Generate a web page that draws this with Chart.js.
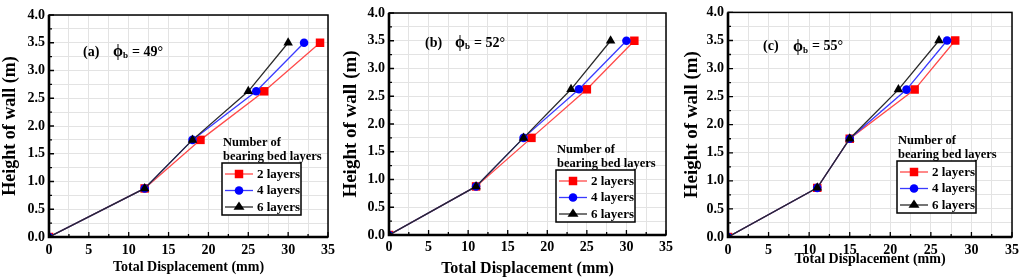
<!DOCTYPE html>
<html>
<head>
<meta charset="utf-8">
<script src="https://cdn.jsdelivr.net/npm/chart.js@4.4.1/dist/chart.umd.min.js"></script>
<style>
  html, body { margin: 0; padding: 0; background: #fff; width: 1024px; height: 280px; overflow: hidden; }
  canvas { position: absolute; top: 0; }
</style>
</head>
<body>
<canvas id="panelA" width="340" height="280" style="left:0"></canvas>
<canvas id="panelB" width="340" height="280" style="left:340px"></canvas>
<canvas id="panelC" width="344" height="280" style="left:680px"></canvas>
<script>
// wall heights (m) where displacement was recorded
const HEIGHTS = [0, 0.875, 1.75, 2.625, 3.5];
const SERIES_LABELS = ['2 layers', '4 layers', '6 layers'];

// total displacement (mm) — (a) phi_b = 49°
const A_2 = [0, 12, 19, 27, 34];
const A_4 = [0, 12, 18, 26, 32];
const A_6 = [0, 12, 18, 25, 30];
// (b) phi_b = 52°
const B_2 = [0, 11, 18, 25, 31];
const B_4 = [0, 11, 17, 24, 30];
const B_6 = [0, 11, 17, 23, 28];
// (c) phi_b = 55°
const C_2 = [0, 11, 15, 23, 28];
const C_4 = [0, 11, 15, 22, 27];
const C_6 = [0, 11, 15, 21, 26];

const X_MAX = 35;
const Y_MAX = 4;

const FONT = 'Liberation Serif, Times New Roman, serif';
const STYLES = [
  { line: '#ff4a4a', fill: '#ff0000', point: 'rect', r: 6 },
  { line: '#3a3aff', fill: '#0000ff', point: 'circle', r: 4.3 },
  { line: '#2a2a2a', fill: '#000000', point: 'triangle', r: 5.5 },
];

function marker(ctx, style, x, y, r) {
  ctx.beginPath();
  if (style === 'rect') {
    const s = r * Math.SQRT1_2;
    ctx.rect(x - s, y - s, 2 * s, 2 * s);
  } else if (style === 'circle') {
    ctx.arc(x, y, r, 0, Math.PI * 2);
  } else {
    const h = r * 1.5, w = r * 1.0;
    ctx.moveTo(x, y - h * 2 / 3);
    ctx.lineTo(x + w, y + h / 3);
    ctx.lineTo(x - w, y + h / 3);
    ctx.closePath();
  }
  ctx.fill();
}

const decoPlugin = {
  id: 'deco',
  afterDraw(chart, args, o) {
    const { ctx, chartArea: ca, scales: { x, y } } = chart;
    ctx.save();
    // inward tick marks
    ctx.strokeStyle = '#000';
    ctx.lineWidth = 1.3;
    ctx.beginPath();
    x.ticks.forEach(t => {
      const px = x.getPixelForValue(t.value);
      const len = t.value % 5 === 0 ? 5 : 3;
      ctx.moveTo(px, ca.bottom); ctx.lineTo(px, ca.bottom - len);
    });
    y.ticks.forEach(t => {
      const py = y.getPixelForValue(t.value);
      const major = Math.abs(t.value * 2 - Math.round(t.value * 2)) < 1e-6;
      const len = major ? 5 : 3;
      ctx.moveTo(ca.left, py); ctx.lineTo(ca.left + len, py);
    });
    ctx.stroke();
    // frame
    ctx.lineWidth = 1.5;
    ctx.strokeRect(ca.left, ca.top, ca.right - ca.left, ca.bottom - ca.top);
    ctx.lineWidth = 2.6;
    ctx.beginPath();
    ctx.moveTo(ca.left, ca.top); ctx.lineTo(ca.left, ca.bottom); ctx.lineTo(ca.right, ca.bottom);
    ctx.stroke();

    // panel tag and friction angle
    ctx.fillStyle = '#000';
    ctx.textBaseline = 'middle';
    ctx.textAlign = 'left';
    const tx = ca.left + o.tagDx, ty = ca.top + o.tagDy;
    ctx.font = 'bold 14px ' + FONT;
    ctx.fillText(o.tag, tx, ty);
    ctx.font = 'bold 16px ' + FONT;
    ctx.fillText('ϕ', tx + 30, ty);
    ctx.font = 'bold 9px ' + FONT;
    ctx.fillText('b', tx + 40, ty + 4);
    ctx.font = 'bold 14px ' + FONT;
    ctx.fillText('= ' + o.phi + '°', tx + 49, ty);

    // legend
    const bw = 79, bh = 52;
    const bx = ca.right - o.legRight - bw, by = ca.bottom - o.legBottom - bh;
    ctx.font = 'bold 12.5px ' + FONT;
    ctx.fillText('Number of', bx + 1, by - 20);
    ctx.fillText('bearing bed layers', bx + 1, by - 6);
    ctx.fillStyle = '#fff';
    ctx.fillRect(bx, by, bw, bh);
    ctx.strokeStyle = '#000';
    ctx.lineWidth = 1.5;
    ctx.strokeRect(bx, by, bw, bh);
    ctx.font = 'bold 13px ' + FONT;
    chart.data.datasets.forEach((ds, i) => {
      const st = STYLES[i];
      const ly = by + 11 + i * 16.5;
      ctx.strokeStyle = st.line;
      ctx.lineWidth = 1.3;
      ctx.beginPath();
      ctx.moveTo(bx + 3, ly); ctx.lineTo(bx + 31, ly);
      ctx.stroke();
      ctx.fillStyle = st.fill;
      marker(ctx, st.point, bx + 17, ly, st.r);
      ctx.fillStyle = '#000';
      ctx.fillText(ds.label, bx + 35, ly + 0.5);
    });
    ctx.restore();
  }
};

function makePanel(id, xs, box, deco) {
  const canvas = document.getElementById(id);
  const W = canvas.width, H = canvas.height;
  const datasets = xs.map((vals, i) => ({
    label: SERIES_LABELS[i],
    data: vals.map((v, k) => ({ x: v, y: HEIGHTS[k] })),
    order: xs.length - 1 - i, // later series drawn on top
    borderColor: STYLES[i].line,
    backgroundColor: STYLES[i].fill,
    pointBackgroundColor: STYLES[i].fill,
    pointBorderWidth: 0,
    pointStyle: STYLES[i].point,
    pointRadius: STYLES[i].r,
    borderWidth: 1.3,
    tension: 0,
  }));
  const tickFont = { family: FONT, weight: 'bold', size: 14 };
  return new Chart(canvas, {
    type: 'line',
    data: { datasets },
    plugins: [decoPlugin],
    options: {
      responsive: false,
      animation: false,
      events: [],
      layout: { padding: { top: box.top, right: W - box.right, left: 0, bottom: 0 } },
      plugins: {
        legend: { display: false },
        tooltip: { enabled: false },
        deco,
      },
      scales: {
        x: {
          type: 'linear',
          min: 0,
          max: X_MAX,
          afterFit(scale) { scale.height = H - box.bottom; },
          grid: { color: '#e3e3e3', lineWidth: 1, drawTicks: false },
          border: { display: false },
          ticks: {
            stepSize: 2.5,
            autoSkip: false,
            maxRotation: 0,
            maxTicksLimit: 100,
            padding: box.xPad,
            color: '#000',
            font: tickFont,
            callback: v => (v % 5 === 0 ? String(v) : ''),
          },
          title: {
            display: true,
            text: 'Total Displacement (mm)',
            color: '#000',
            font: { family: FONT, weight: 'bold', size: box.xTitleSize, lineHeight: 1 },
            padding: { top: 0, bottom: box.xTitlePad },
          },
        },
        y: {
          type: 'linear',
          min: 0,
          max: Y_MAX,
          afterFit(scale) { scale.width = box.left; },
          grid: { color: '#e3e3e3', lineWidth: 1, drawTicks: false },
          border: { display: false },
          ticks: {
            stepSize: 0.25,
            autoSkip: false,
            maxTicksLimit: 100,
            padding: 4,
            color: '#000',
            font: tickFont,
            callback: v => (Math.abs(v * 2 - Math.round(v * 2)) < 1e-6 ? v.toFixed(1) : ''),
          },
          title: {
            display: true,
            text: 'Height of wall (m)',
            color: '#000',
            font: { family: FONT, weight: 'bold', size: box.yTitleSize, lineHeight: 1 },
            padding: { top: box.yTitlePad, bottom: 0 },
          },
        },
      },
    },
  });
}

makePanel('panelA', [A_2, A_4, A_6],
  { left: 49, right: 330, top: 15, bottom: 237, xPad: 5, xTitleSize: 14, xTitlePad: 6, yTitleSize: 18, yTitlePad: 1 },
  { tag: '(a)', phi: '49', tagDx: 34, tagDy: 37, legRight: 27, legBottom: 22 });
makePanel('panelB', [B_2, B_4, B_6],
  { left: 49, right: 326, top: 13, bottom: 235, xPad: 4, xTitleSize: 16, xTitlePad: 3, yTitleSize: 19, yTitlePad: 2 },
  { tag: '(b)', phi: '52', tagDx: 36, tagDy: 30, legRight: 31, legBottom: 13 });
makePanel('panelC', [C_2, C_4, C_6],
  { left: 48, right: 334, top: 11, bottom: 237, xPad: 5, xTitleSize: 14, xTitlePad: 14, yTitleSize: 19, yTitlePad: 3 },
  { tag: '(c)', phi: '55', tagDx: 35, tagDy: 34, legRight: 36, legBottom: 24 });
</script>
</body>
</html>
